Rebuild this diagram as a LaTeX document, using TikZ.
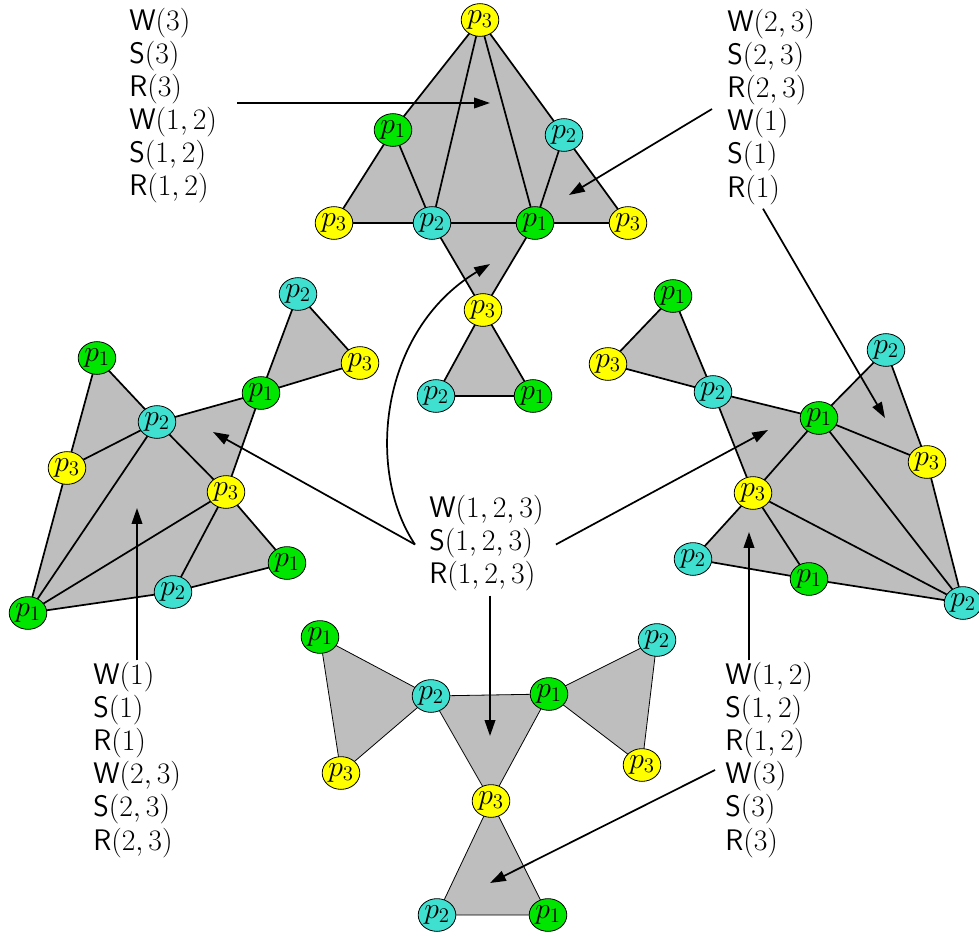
\RequirePackage{fix-cm}
\documentclass[tikz,border=0pt]{standalone}
\usepackage{tikz}
\usetikzlibrary{arrows.meta, shapes.geometric, calc, backgrounds}

\definecolor{pgreen}{RGB}{0,230,0}
\definecolor{pcyan}{RGB}{64,224,208}
\definecolor{pyellow}{RGB}{255,255,0}
\definecolor{facegray}{RGB}{190,190,190}

% one operation, and the write/snapshot/read triple of a set of processes
\newcommand{\wsr}[2]{\textsf{#1}$(#2)$}
\newcommand{\trip}[1]{\wsr{W}{#1}\\\wsr{S}{#1}\\\wsr{R}{#1}}

\begin{document}
\begin{tikzpicture}[x=0.0266cm, y=-0.0266cm,
  every node/.style={font=\fontsize{22.5pt}{25pt}\selectfont},
  vtx/.style={ellipse, draw=black, line width=0.6pt, inner sep=0pt,
    minimum width=1.0cm, minimum height=0.87cm},
  pt1/.style={vtx, fill=pgreen},
  pt2/.style={vtx, fill=pcyan},
  pt3/.style={vtx, fill=pyellow},
  facet/.style={fill=facegray, draw=black, line width=1.3pt, line join=round},
  thinfacet/.style={fill=facegray, draw=black, line width=0.6pt, line join=round},
  seg/.style={draw=black, line width=1.3pt},
  labels/.style={align=left, inner sep=0pt, anchor=west},
  arr/.style={-{Triangle[length=0.42cm,width=0.28cm]}, line width=1.3pt}]
  \useasboundingbox (0,0) rectangle (979,936);

  % vertices: name / x / y / process (pixel grid, y down)
  % top complex
  \foreach \n/\x/\y/\k in {t3a/480/20/3, t1a/393/130/1, t2a/564/135/2,
      t3b/334/223/3, t2b/432/223/2, t1b/535/223/1, t3c/628/223/3,
      t3d/483/310/3, t2c/436/396/2, t1c/533/396/1}
    \node[pt\k] (\n) at (\x,\y) {$p_\k$};
  % left complex
  \foreach \n/\x/\y/\k in {l2a/298/294/2, l3a/360/363/3, l1a/261/393/1,
      l1b/97/358/1, l2b/157/422/2, l3b/67/468/3, l3c/226/492/3,
      l1c/287/563/1, l2c/173/592/2, l1d/28/613/1}
    \node[pt\k] (\n) at (\x,\y) {$p_\k$};
  % right complex
  \foreach \n/\x/\y/\k in {r1a/673/296/1, r3a/608/364/3, r2a/713/392/2,
      r2b/886/350/2, r1b/819/418/1, r3b/927/462/3, r3c/753/493/3,
      r2c/693/559/2, r1c/809/579/1, r2d/963/603/2}
    \node[pt\k] (\n) at (\x,\y) {$p_\k$};
  % bottom complex
  \foreach \n/\x/\y/\k in {b1a/320/637/1, b2a/431/696/2, b3a/341/773/3,
      b1b/549/694/1, b2b/657/640/2, b3b/642/765/3,
      b3c/491/801/3, b2c/437/915/2, b1c/548/915/1}
    \node[pt\k] (\n) at (\x,\y) {$p_\k$};

  % faces and edges go under the vertices
  \begin{scope}[on background layer]
    % top
    \path[facet] (t3a.center) -- (t1a.center) -- (t3b.center) -- (t2b.center)
      -- (t1b.center) -- (t3c.center) -- (t2a.center) -- cycle;
    \path[facet] (t2b.center) -- (t1b.center) -- (t3d.center) -- cycle;
    \path[facet] (t3d.center) -- (t2c.center) -- (t1c.center) -- cycle;
    \foreach \a/\b in {t3a/t2b, t3a/t1b, t1a/t2b, t2a/t1b}
      \draw[seg] (\a.center) -- (\b.center);
    % left
    \path[facet] (l2a.center) -- (l1a.center) -- (l3a.center) -- cycle;
    \path[facet] (l1b.center) -- (l2b.center) -- (l1a.center) -- (l3c.center)
      -- (l1c.center) -- (l2c.center) -- (l1d.center) -- (l3b.center) -- cycle;
    \foreach \a/\b in {l3b/l2b, l2b/l3c, l1d/l2b, l1d/l3c, l3c/l2c}
      \draw[seg] (\a.center) -- (\b.center);
    % right
    \path[facet] (r1a.center) -- (r3a.center) -- (r2a.center) -- cycle;
    \path[facet] (r2a.center) -- (r1b.center) -- (r2b.center) -- (r3b.center)
      -- (r2d.center) -- (r1c.center) -- (r2c.center) -- (r3c.center) -- cycle;
    \foreach \a/\b in {r3c/r1b, r1b/r3b, r1b/r2d, r3c/r2d, r3c/r1c}
      \draw[seg] (\a.center) -- (\b.center);
    % bottom
    \path[thinfacet] (b1a.center) -- (b2a.center) -- (b3a.center) -- cycle;
    \path[thinfacet] (b2a.center) -- (b1b.center) -- (b3c.center) -- cycle;
    \path[thinfacet] (b1b.center) -- (b2b.center) -- (b3b.center) -- cycle;
    \path[thinfacet] (b3c.center) -- (b2c.center) -- (b1c.center) -- cycle;
  \end{scope}

  % operation labels
  \node[labels] (tl) at (129,105.5) {\trip{3}\\\trip{1,2}};
  \node[labels] (tr) at (727,107) {\trip{2,3}\\\trip{1}};
  \node[labels] (tc) at (429,543.5) {\trip{1,2,3}};
  \node[labels] (bl) at (93,760) {\trip{1}\\\trip{2,3}};
  \node[labels] (br) at (725,760) {\trip{1,2}\\\trip{3}};

  % arrow targets inside the faces
  \coordinate (aT) at (490,103);
  \coordinate (aTR) at (569,195);
  \coordinate (aRT) at (885,418);
  \coordinate (aC) at (490,264);
  \coordinate (aL) at (213,432);
  \coordinate (aR) at (768,430);
  \coordinate (aB) at (490,736);
  \coordinate (aBL) at (137,508);
  \coordinate (aBR) at (749,532);
  \coordinate (aBB) at (490,883);

  \draw[arr] ($(tl.east)+(20,-2.5)$) -- (aT);
  \draw[arr] ($(tr.west)+(-15,2)$) -- (aTR);
  \draw[arr] ($(tr.south west)+(36,4)$) -- (aRT);
  \draw[arr] ($(tc.west)+(-14,1)$) .. controls (365,470) and (380,330) .. (aC);
  \draw[arr] ($(tc.west)+(-14,1)$) -- (aL);
  \draw[arr] ($(tc.east)+(12,1)$) -- (aR);
  \draw[arr] ($(tc.south -| aB)+(0,4)$) -- (aB);
  \draw[arr] ($(aBL |- bl.north)+(0,-2)$) -- (aBL);
  \draw[arr] ($(aBR |- br.north)+(0,-2)$) -- (aBR);
  \draw[arr] ($(br.west)+(-10,10)$) -- (aBB);
\end{tikzpicture}
\end{document}
